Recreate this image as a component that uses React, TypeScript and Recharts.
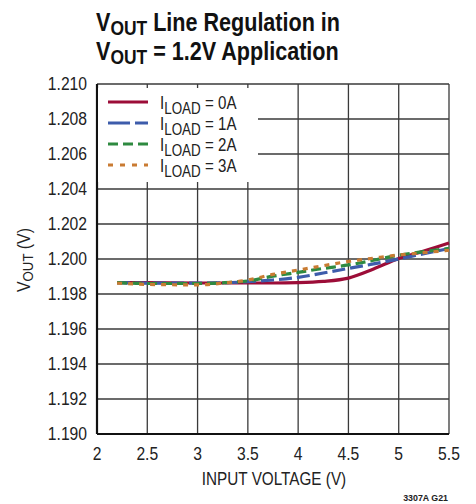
import React from 'react';
import { LineChart, Line, XAxis, YAxis, CartesianGrid, Legend } from 'recharts';

const vin = [2.2, 2.5, 3, 3.25, 3.5, 3.75, 4, 4.25, 4.5, 4.75, 5, 5.25, 5.5];
const iload0 = [1.19865, 1.19865, 1.19863, 1.19863, 1.19863, 1.19863, 1.19865, 1.19872, 1.19891, 1.19943, 1.20003, 1.20045, 1.20091];
const iload1 = [1.19865, 1.19862, 1.19862, 1.19864, 1.1987, 1.1988, 1.19895, 1.1992, 1.19946, 1.19972, 1.2, 1.2003, 1.2006];
const iload2 = [1.19865, 1.1986, 1.1986, 1.19864, 1.19875, 1.19902, 1.19924, 1.19946, 1.19966, 1.19993, 1.20022, 1.20042, 1.2006];
const iload3 = [1.19862, 1.19855, 1.19852, 1.19862, 1.1988, 1.19912, 1.19937, 1.19962, 1.19986, 1.20005, 1.20023, 1.20036, 1.2005];

const xTicks = [2, 2.5, 3, 3.5, 4, 4.5, 5, 5.5];
const yTicks = [1.19, 1.192, 1.194, 1.196, 1.198, 1.2, 1.202, 1.204, 1.206, 1.208, 1.21];
const seriesKeys = ['a0', 'a1', 'a2', 'a3'];
const seriesLabels = ['0A', '1A', '2A', '3A'];
const seriesColors = ['#9c0d38', '#3d5cab', '#2e8a40', '#c97b32'];
const seriesDash = ['', '13 5', '10 5', '5 6'];
const legendDash = ['', '22 5', '10 5', '5 7'];

const data = vin.map((v, i) => ({ vin: v, a0: iload0[i], a1: iload1[i], a2: iload2[i], a3: iload3[i] }));

const FONT = '"Liberation Sans", Arial, sans-serif';
const TEXT = '#222';

const XTick = (props: any) => {
  const { x, y, payload } = props;
  return (
    <text transform={`translate(${x},${y}) scale(0.87,1)`} x={0} y={0} dy="0.71em" textAnchor="middle" fontFamily={FONT} fontSize={18} fill={TEXT}>
      {String(payload.value)}
    </text>
  );
};

const YTick = (props: any) => {
  const { x, y, payload } = props;
  return (
    <text transform={`translate(${x},${y}) scale(0.87,1)`} x={0} y={0} dy="0.355em" textAnchor="end" fontFamily={FONT} fontSize={18} fill={TEXT}>
      {Number(payload.value).toFixed(3)}
    </text>
  );
};

const LegendBox = () => (
  <svg width={160} height={94} style={{ display: 'block' }}>
    <rect x={0} y={0} width={160} height={94} fill="#fff" />
    {seriesKeys.map((k, i) => {
      const y = 14 + i * 21;
      return (
        <g key={k}>
          <line x1={10} x2={50} y1={y} y2={y} stroke={seriesColors[i]} strokeWidth={3.2} strokeDasharray={legendDash[i]} />
          <text transform={`translate(62,${y + 6.5}) scale(0.84,1)`} x={0} y={0} fontFamily={FONT} fontSize={18} fill={TEXT}>
            <tspan>I</tspan>
            <tspan dy={5} fontSize={16}>LOAD</tspan>
            <tspan dy={-5}>{` = ${seriesLabels[i]}`}</tspan>
          </text>
        </g>
      );
    })}
  </svg>
);

export default function App() {
  return (
    <div style={{ position: 'absolute', left: 0, top: 0, width: 476, height: 504, background: '#fff' }}>
      <LineChart width={476} height={504} data={data} margin={{ top: 84, right: 27, bottom: 0, left: 0 }}>
        <CartesianGrid stroke="#3a3a3a" strokeWidth={1.3} />
        <XAxis
          dataKey="vin"
          type="number"
          domain={[2, 5.5]}
          ticks={xTicks}
          tickLine={false}
          tickSize={0}
          tickMargin={13}
          axisLine={{ stroke: '#111', strokeWidth: 2.2 }}
          tick={<XTick />}
          height={70}
        />
        <XAxis xAxisId="top" orientation="top" dataKey="vin" type="number" domain={[2, 5.5]} ticks={xTicks} tick={false} tickLine={false} axisLine={{ stroke: '#111', strokeWidth: 2.2 }} height={0} />
        <YAxis
          type="number"
          domain={[1.19, 1.21]}
          ticks={yTicks}
          tickLine={false}
          tickSize={0}
          tickMargin={10}
          axisLine={{ stroke: '#111', strokeWidth: 2.2 }}
          tick={<YTick />}
          width={97}
          allowDataOverflow
        />
        <YAxis yAxisId="right" orientation="right" type="number" domain={[1.19, 1.21]} ticks={yTicks} tick={false} tickLine={false} axisLine={{ stroke: '#111', strokeWidth: 2.2 }} width={0} />
        <Legend
          layout="vertical"
          align="center"
          verticalAlign="middle"
          content={() => <LegendBox />}
          wrapperStyle={{ position: 'absolute', left: 98, top: 88, width: 160, height: 94 }}
        />
        {seriesKeys.map((k, i) => (
          <Line
            key={k}
            dataKey={k}
            type="monotone"
            stroke={seriesColors[i]}
            strokeWidth={3.2}
            strokeDasharray={seriesDash[i]}
            dot={false}
            activeDot={false}
            isAnimationActive={false}
          />
        ))}
      </LineChart>
      <svg width={476} height={504} style={{ position: 'absolute', left: 0, top: 0, pointerEvents: 'none' }}>
        <g fontFamily={FONT} fontWeight="bold" fontSize={26} fill="#111">
          <text transform="translate(96,31) scale(0.83,1)" x={0} y={0}>
            <tspan>V</tspan>
            <tspan dy={4} fontSize={21}>OUT</tspan>
            <tspan dy={-4}> Line Regulation in</tspan>
          </text>
          <text transform="translate(96,60) scale(0.83,1)" x={0} y={0}>
            <tspan>V</tspan>
            <tspan dy={4} fontSize={21}>OUT</tspan>
            <tspan dy={-4}> = 1.2V Application</tspan>
          </text>
        </g>
        <text transform="translate(30,260) rotate(-90) scale(0.88,1)" x={0} y={0} textAnchor="middle" fontFamily={FONT} fontSize={18} fill={TEXT}>
          <tspan>V</tspan>
          <tspan dy={3} fontSize={15}>OUT</tspan>
          <tspan dy={-3}> (V)</tspan>
        </text>
        <text transform="translate(274,485) scale(0.85,1)" x={0} y={0} textAnchor="middle" fontFamily={FONT} fontSize={18} fill={TEXT}>INPUT VOLTAGE (V)</text>
        <text transform="translate(448,501) scale(0.93,1)" x={0} y={0} textAnchor="end" fontFamily={FONT} fontWeight="bold" fontSize={9.5} fill={TEXT}>3307A G21</text>
      </svg>
    </div>
  );
}
